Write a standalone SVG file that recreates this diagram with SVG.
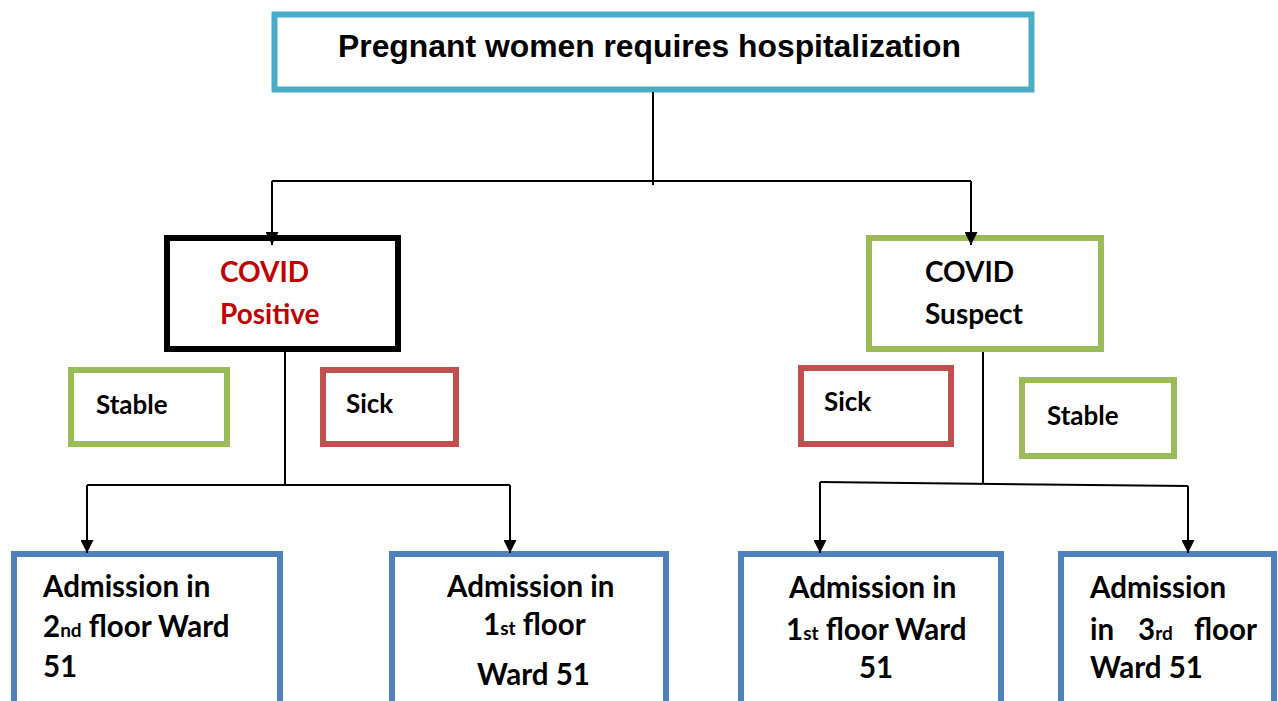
<svg xmlns="http://www.w3.org/2000/svg" width="1278" height="701" viewBox="0 0 1278 701">
<defs>
<marker id="arr" viewBox="0 0 10 10" refX="10" refY="5" markerWidth="15" markerHeight="13" markerUnits="userSpaceOnUse" orient="auto">
<path d="M0,0 L10,5 L0,10 z" fill="#000"/>
</marker>
<style>
.box{fill:#fff;stroke-width:6}
.blue{stroke:#4F81BD}
.green{stroke:#9BBB59}
.red{stroke:#C0504D}
.t{font-family:Lato,"Liberation Sans",sans-serif;font-weight:bold;fill:#000}
.b{font-size:28px}
.a{font-size:29.5px}
.s{font-size:26px}
.sup{font-size:19px}
.conn path{fill:none;stroke:#000;stroke-width:2}
</style>
</defs>
<rect width="1278" height="701" fill="#fff"/>

<g id="top">
<rect x="274.5" y="14.5" width="757" height="75" fill="#fff" stroke="#4BACC6" stroke-width="6"/>
<text x="338" y="57" font-family="Liberation Sans, Arial, sans-serif" font-weight="bold" font-size="31" textLength="623" lengthAdjust="spacingAndGlyphs">Pregnant women requires hospitalization</text>
</g>

<g id="covid-positive">
<rect x="167" y="238" width="231" height="111" class="box" stroke="#000"/>
<text class="t b" x="220" y="282" style="fill:#C00000">COVID</text>
<text class="t b" x="220" y="324" style="fill:#C00000">Positive</text>
</g>

<g id="covid-suspect">
<rect x="869" y="238" width="232" height="111" class="box green"/>
<text class="t b" x="925" y="282">COVID</text>
<text class="t b" x="925" y="324">Suspect</text>
</g>

<g id="stable-left">
<rect x="71" y="370" width="156" height="74" class="box green"/>
<text class="t s" x="96" y="414">Stable</text>
</g>

<g id="sick-left">
<rect x="323" y="370" width="133" height="74" class="box red"/>
<text class="t s" x="346" y="413">Sick</text>
</g>

<g id="sick-right">
<rect x="801" y="368" width="150" height="76" class="box red"/>
<text class="t s" x="824" y="411">Sick</text>
</g>

<g id="stable-right">
<rect x="1022" y="380" width="152" height="76" class="box green"/>
<text class="t s" x="1047" y="425">Stable</text>
</g>

<g id="adm-2nd">
<rect x="14" y="554" width="266" height="200" class="box blue"/>
<text class="t a" x="43" y="597">Admission in</text>
<text class="t a" x="43" y="637">2<tspan class="sup">nd</tspan> floor Ward</text>
<text class="t a" x="43" y="677">51</text>
</g>

<g id="adm-1st-a">
<rect x="392" y="554" width="274" height="200" class="box blue"/>
<text class="t a" x="447" y="597">Admission in</text>
<text class="t a" x="483" y="635">1<tspan class="sup">st</tspan> floor</text>
<text class="t a" x="477" y="685">Ward 51</text>
</g>

<g id="adm-1st-b">
<rect x="741" y="554" width="260" height="200" class="box blue"/>
<text class="t a" x="789" y="598">Admission in</text>
<text class="t a" x="786" y="640">1<tspan class="sup">st</tspan> floor Ward</text>
<text class="t a" x="859" y="678">51</text>
</g>

<g id="adm-3rd">
<rect x="1061" y="554" width="213" height="200" class="box blue"/>
<text class="t a" x="1090" y="598">Admission</text>
<text class="t a" y="640"><tspan x="1090">in</tspan><tspan x="1138">3</tspan><tspan class="sup">rd</tspan><tspan x="1194">floor</tspan></text>
<text class="t a" x="1090" y="678">Ward 51</text>
</g>

<g class="conn" id="connectors">
<path d="M653,92 V185"/>
<path d="M272,181 H971"/>
<path d="M272,181 V245" marker-end="url(#arr)"/>
<path d="M971,181 V245" marker-end="url(#arr)"/>
<path d="M285,351 V485"/>
<path d="M87,485 H510"/>
<path d="M87,485 V553" marker-end="url(#arr)"/>
<path d="M510,485 V553" marker-end="url(#arr)"/>
<path d="M983,352 V483"/>
<path d="M820,482 L1188,486"/>
<path d="M820,482 V553" marker-end="url(#arr)"/>
<path d="M1188,486 V553" marker-end="url(#arr)"/>
</g>
</svg>
